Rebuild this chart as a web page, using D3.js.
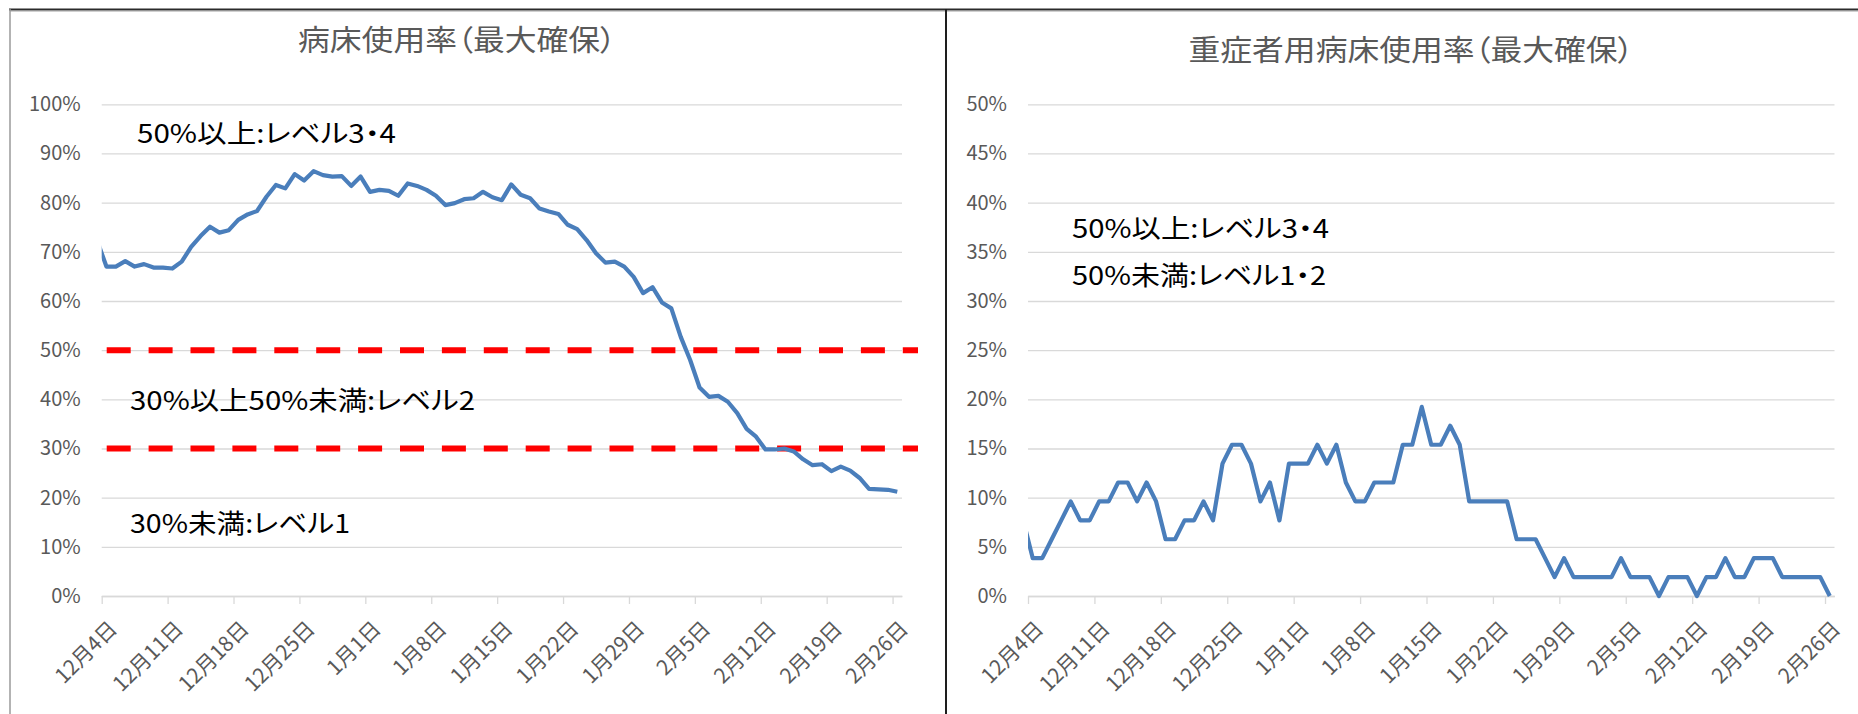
<!DOCTYPE html>
<html>
<head>
<meta charset="utf-8">
<script src="https://cdn.jsdelivr.net/npm/d3@7"></script>
<style>
  body { margin: 0; background: #fff; }
  svg { display: block; font-family: "Noto Sans CJK JP", "Noto Sans", sans-serif; }
  .title, .note { font-feature-settings: "palt"; }
</style>
</head>
<body>
<svg id="chart" width="1858" height="714"></svg>
<script>
// one value per day, 12/3 .. 2/26 (12/3 only shows as the clipped start of the line)
const firstDay = "2020-12-03";
const lastDay = "2021-02-26";

const bedRate = [
  72.4,
  67.0, 67.0, 68.1, 67.0, 67.5, 66.8, 66.8, 66.6, 68.0, 71.0,
  73.2, 75.1, 73.9, 74.4, 76.5, 77.6, 78.3, 81.2, 83.6, 82.9,
  85.8, 84.5, 86.4, 85.6, 85.3, 85.4, 83.4, 85.3, 82.2, 82.6,
  82.4, 81.4, 83.9, 83.4, 82.6, 81.4, 79.5, 79.9, 80.7, 80.9,
  82.2, 81.1, 80.5, 83.7, 81.6, 80.9, 78.8, 78.2, 77.7, 75.5,
  74.6, 72.4, 69.7, 67.8, 68.0, 67.0, 64.9, 61.6, 62.8, 59.7,
  58.5, 52.7, 48.0, 42.4, 40.5, 40.7, 39.5, 37.2, 34.0, 32.4,
  29.8, 29.8, 30.0, 29.4, 27.8, 26.6, 26.8, 25.4, 26.3, 25.5,
  24.0, 21.8, 21.7, 21.6, 21.2
];

const severeRate = [
  7.69,
  3.85, 3.85, 5.77, 7.69, 9.62, 7.69, 7.69, 9.62, 9.62, 11.54,
  11.54, 9.62, 11.54, 9.62, 5.77, 5.77, 7.69, 7.69, 9.62, 7.69,
  13.46, 15.38, 15.38, 13.46, 9.62, 11.54, 7.69, 13.46, 13.46, 13.46,
  15.38, 13.46, 15.38, 11.54, 9.62, 9.62, 11.54, 11.54, 11.54, 15.38,
  15.38, 19.23, 15.38, 15.38, 17.31, 15.38, 9.62, 9.62, 9.62, 9.62,
  9.62, 5.77, 5.77, 5.77, 3.85, 1.92, 3.85, 1.92, 1.92, 1.92,
  1.92, 1.92, 3.85, 1.92, 1.92, 1.92, 0, 1.92, 1.92, 1.92,
  0, 1.92, 1.92, 3.85, 1.92, 1.92, 3.85, 3.85, 3.85, 1.92,
  1.92, 1.92, 1.92, 1.92, 0
];

const tickDays = ["2020-12-04", "2020-12-11", "2020-12-18", "2020-12-25", "2021-01-01",
  "2021-01-08", "2021-01-15", "2021-01-22", "2021-01-29", "2021-02-05",
  "2021-02-12", "2021-02-19", "2021-02-26"];
const tickLabels = ["12月4日", "12月11日", "12月18日", "12月25日", "1月1日", "1月8日",
  "1月15日", "1月22日", "1月29日", "2月5日", "2月12日", "2月19日", "2月26日"];

const bedTicks = [0, 10, 20, 30, 40, 50, 60, 70, 80, 90, 100];
const severeTicks = [0, 5, 10, 15, 20, 25, 30, 35, 40, 45, 50];
const levelLines = [50, 30];

const bedTitle = "病床使用率（最大確保）";
const severeTitle = "重症者用病床使用率（最大確保）";
const bedNotes = ["50%以上:レベル3・4", "30%以上50%未満:レベル2", "30%未満:レベル1"];
const severeNotes = ["50%以上:レベル3・4", "50%未満:レベル1・2"];

const parse = d3.timeParse("%Y-%m-%d");
const days = d3.timeDay.range(parse(firstDay), d3.timeDay.offset(parse(lastDay), 1));

const plotTop = 104.3;
const plotBottom = 596;
const grey = "#595959";
const gridColor = "#d9d9d9";

const svg = d3.select("#chart");

function createLineChart(id, opt) {
  const g = svg.append("g").attr("id", id);

  const x = d3.scaleTime()
    .domain([parse(tickDays[0]), d3.timeDay.offset(parse(lastDay), 1)])
    .range([opt.left, opt.right]);
  const y = d3.scaleLinear().domain([0, opt.yMax]).range([plotBottom, plotTop]);

  // gridlines and y labels
  g.append("g")
    .attr("transform", `translate(${opt.left},0)`)
    .call(d3.axisLeft(y).tickValues(opt.yTicks)
      .tickSize(-(opt.right - opt.left)).tickPadding(21)
      .tickFormat(d => d + "%"))
    .attr("font-family", null)
    .call(a => a.select(".domain").remove())
    .call(a => a.selectAll(".tick line").attr("stroke", gridColor).attr("stroke-width", 1.3))
    .call(a => a.selectAll(".tick text").attr("fill", grey).style("font-size", "20px"));

  // date axis
  g.append("g")
    .attr("transform", `translate(0,${plotBottom})`)
    .call(d3.axisBottom(x).tickValues(tickDays.map(parse))
      .tickSizeInner(8).tickSizeOuter(0)
      .tickFormat((d, i) => tickLabels[i]))
    .attr("font-family", null)
    .call(a => a.select(".domain").attr("stroke", gridColor).attr("stroke-width", 1.3))
    .call(a => a.selectAll(".tick line").attr("stroke", gridColor).attr("stroke-width", 1.3))
    .call(a => a.selectAll(".tick text")
      .attr("text-anchor", "end").attr("x", 0).attr("y", 0).attr("dy", "0.35em")
      .attr("transform", "translate(11,29) rotate(-45)")
      .attr("fill", grey).style("font-size", "21px"));

  // level lines
  g.selectAll("line.level")
    .data(opt.levels)
    .join("line")
    .attr("class", "level")
    .attr("x1", opt.left + 5).attr("x2", opt.right + 16)
    .attr("y1", d => y(d)).attr("y2", d => y(d))
    .attr("stroke", "#ff0000").attr("stroke-width", 6)
    .attr("stroke-dasharray", "24 17.9");

  // the line, clipped to the plot
  g.append("clipPath").attr("id", id + "-clip")
    .append("rect")
    .attr("x", opt.left).attr("y", 0)
    .attr("width", opt.right - opt.left).attr("height", 714);

  g.append("path")
    .datum(opt.values)
    .attr("clip-path", `url(#${id}-clip)`)
    .attr("fill", "none")
    .attr("stroke", "#4a7ebb")
    .attr("stroke-width", 4.2)
    .attr("stroke-linejoin", "round")
    .attr("d", d3.line()
      .x((d, i) => x(d3.timeHour.offset(days[i], 12)))
      .y(d => y(d)));

  // title
  g.append("text")
    .attr("class", "title")
    .attr("x", opt.titleX).attr("y", opt.titleY)
    .attr("text-anchor", "middle")
    .attr("textLength", opt.titleLen).attr("lengthAdjust", "spacingAndGlyphs")
    .attr("fill", grey).style("font-size", "29px")
    .text(opt.title);

  // notes
  g.selectAll("text.note")
    .data(opt.notes)
    .join("text")
    .attr("class", "note")
    .attr("x", (d, i) => opt.noteX[i]).attr("y", (d, i) => opt.noteY[i])
    .attr("textLength", (d, i) => opt.noteLen[i]).attr("lengthAdjust", "spacingAndGlyphs")
    .attr("fill", "#000").style("font-size", "26px")
    .text(d => d);
}

// panel frame
svg.append("line").attr("x1", 9).attr("x2", 1858).attr("y1", 9.5).attr("y2", 9.5)
  .attr("stroke", "#2b2b2b").attr("stroke-width", 2);
svg.append("line").attr("x1", 10).attr("x2", 1858).attr("y1", 11.5).attr("y2", 11.5)
  .attr("stroke", "#d0d0d0").attr("stroke-width", 1);
svg.append("line").attr("x1", 10).attr("x2", 10).attr("y1", 9).attr("y2", 714)
  .attr("stroke", "#9a9a9a").attr("stroke-width", 1.5);
svg.append("line").attr("x1", 946).attr("x2", 946).attr("y1", 9).attr("y2", 714)
  .attr("stroke", "#1e1e1e").attr("stroke-width", 2);

createLineChart("bed", {
  left: 101.7, right: 902, yMax: 100, yTicks: bedTicks, levels: levelLines,
  values: bedRate, title: bedTitle, titleX: 457, titleY: 51, titleLen: 318,
  notes: bedNotes, noteX: [137, 130, 130], noteY: [143, 410, 533], noteLen: [259, 345, 220]
});

createLineChart("severe", {
  left: 1028, right: 1834.5, yMax: 50, yTicks: severeTicks, levels: [],
  values: severeRate, title: severeTitle, titleX: 1411, titleY: 61, titleLen: 445,
  notes: severeNotes, noteX: [1072, 1072], noteY: [238, 285], noteLen: [257, 254]
});
</script>
</body>
</html>
